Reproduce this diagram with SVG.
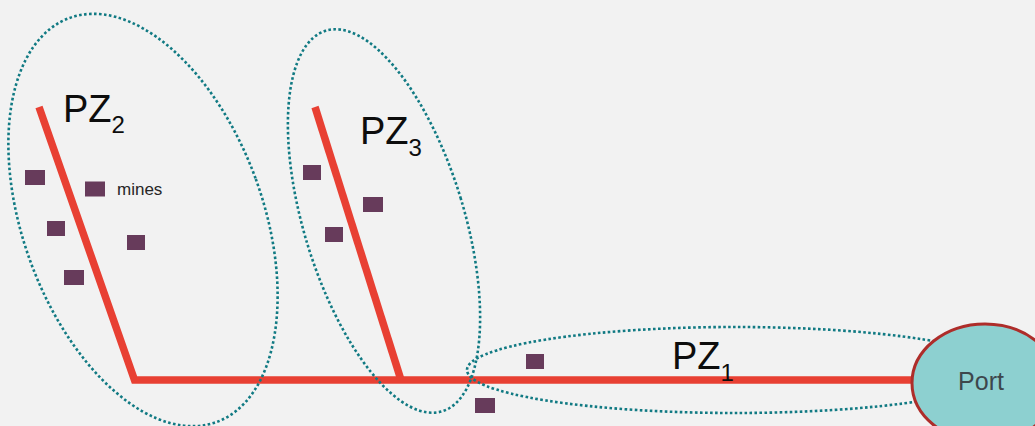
<svg xmlns="http://www.w3.org/2000/svg" width="1035" height="426" viewBox="0 0 1035 426">
  <style>
    .road { fill: none; stroke: #e84033; stroke-width: 7.5; stroke-linejoin: miter; stroke-linecap: butt; }
    .zone { fill: none; stroke: #117a83; stroke-width: 2.6; stroke-dasharray: 2.6 2.4; }
    .mine { fill: #673b5b; }
    .lbl { font-family: "Liberation Sans", Arial, sans-serif; font-size: 38px; fill: #0d0d0d; }
    .sub { font-size: 24px; }
    .small { font-family: "Liberation Sans", Arial, sans-serif; font-size: 17px; fill: #262626; }
    .port { fill: #8dd0d0; stroke: #ae2d2a; stroke-width: 3; }
    .portlbl { font-family: "Liberation Sans", Arial, sans-serif; font-size: 25px; fill: #3d474c; text-anchor: middle; }
  </style>
  <rect width="1035" height="426" fill="#f2f2f2"/>

  <g id="connectors">
    <path class="road" d="M39,107 L134.5,380 L914,380"/>
    <path class="road" d="M315,107 L401,380"/>
  </g>

  <g id="PZ2">
    <ellipse class="zone" cx="143" cy="220" rx="120" ry="215" transform="rotate(-20 143 220)"/>
    <text class="lbl" x="63" y="122">PZ<tspan class="sub" dy="11">2</tspan></text>
  </g>

  <g id="PZ3">
    <ellipse class="zone" cx="384" cy="221" rx="80" ry="199" transform="rotate(-17 384 221)"/>
    <text class="lbl" x="360" y="144">PZ<tspan class="sub" dy="12">3</tspan></text>
  </g>

  <g id="PZ1">
    <ellipse class="zone" cx="735" cy="370" rx="268" ry="43"/>
    <text class="lbl" x="672" y="369">PZ<tspan class="sub" dy="12">1</tspan></text>
  </g>

  <g id="mines">
    <rect class="mine" x="25" y="170" width="20" height="15"/>
    <rect class="mine" x="85" y="181.5" width="20" height="15"/>
    <rect class="mine" x="47" y="221" width="18" height="15"/>
    <rect class="mine" x="127" y="235" width="18" height="15"/>
    <rect class="mine" x="64" y="270" width="20" height="15"/>
    <rect class="mine" x="303" y="165" width="18" height="15"/>
    <rect class="mine" x="363" y="197" width="20" height="15"/>
    <rect class="mine" x="325" y="227" width="18" height="15"/>
    <rect class="mine" x="526" y="354" width="18" height="15"/>
    <rect class="mine" x="475" y="398" width="20" height="15"/>
    <text class="small" x="117" y="195">mines</text>
  </g>

  <g id="port">
    <ellipse class="port" cx="985" cy="383" rx="73" ry="59"/>
    <text class="portlbl" x="981" y="390">Port</text>
  </g>
</svg>
